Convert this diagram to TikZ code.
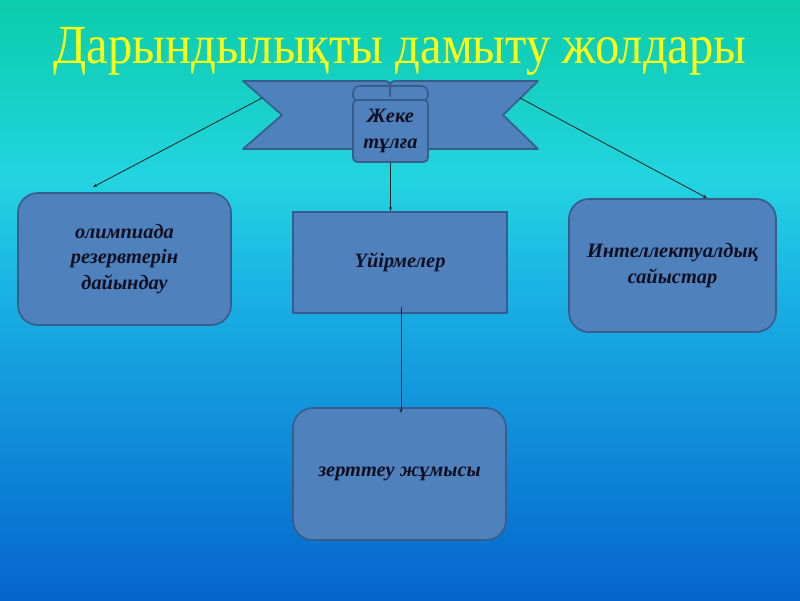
\documentclass[tikz,border=0pt]{standalone}
\usepackage{fontspec}
\setmainfont{Liberation Serif}
\usetikzlibrary{arrows.meta,positioning}
\definecolor{topcol}{RGB}{10,205,170}
\definecolor{cyancol}{RGB}{35,212,225}
\definecolor{midcol}{RGB}{25,175,228}
\definecolor{botcol}{RGB}{5,100,205}
\definecolor{boxfill}{RGB}{79,129,189}
\definecolor{boxline}{RGB}{56,93,138}
\definecolor{titlecol}{RGB}{250,255,20}
\definecolor{textcol}{RGB}{15,15,35}
\tikzset{
  rbox/.style={rectangle,rounded corners=0.5cm,draw=boxline,fill=boxfill,line width=1.2pt,align=center,font=\fontsize{14.5}{18}\selectfont\bfseries\itshape,text=textcol},
  sbox/.style={rbox,rounded corners=0pt},
  band/.style={draw=boxline,fill=boxfill,line width=1.2pt,line join=round},
  arr/.style={-{Stealth[length=3pt]},line width=0.6pt,black!85}
}

\begin{document}
\begin{tikzpicture}[x=0.025cm,y=-0.025cm]
  % background
  \fill[top color=topcol,bottom color=cyancol] (0,0) rectangle (800,181);
  \fill[top color=cyancol,bottom color=midcol] (0,180) rectangle (800,301);
  \fill[top color=midcol,bottom color=botcol] (0,300) rectangle (800,600);
  \node[font=\fontsize{37}{40}\selectfont,text=titlecol,anchor=base,inner sep=0pt] (title) at (400,63) {\scalebox{0.935}[1.06]{Дарындылықты дамыту жолдары}};
  % ribbon with scroll
  \draw[band] (243,81) -- (386,81) .. controls (389,82) .. (390,85) .. controls (391,82) .. (394,81)
    -- (538,81) -- (503,115) -- (538,149) -- (243,149) -- (282,115) -- cycle;
  \coordinate (rl) at (262,98);\coordinate (rr) at (520,98);
  \draw[band,rounded corners=5pt] (353,86) rectangle (428,102);
  \node[rbox,rounded corners=3pt,minimum width=1.875cm,minimum height=1.55cm,inner sep=1pt] (scroll) at (390.5,131) {Жеке\\тұлға};
  \draw[boxline,line width=0.8pt] (390,85) -- (390,97);
  % boxes
  \node[rbox,minimum width=5.325cm,minimum height=3.3cm] (olymp) at (124.5,259) {олимпиада\\резервтерін\\дайындау};
  \node[sbox,minimum width=5.35cm,minimum height=2.525cm] (club) at (400,262.5) {Үйірмелер};
  \node[rbox,minimum width=5.175cm,minimum height=3.325cm] (intel) at (672.5,265.5) {Интеллектуалдық\\сайыстар};
  \node[rbox,minimum width=5.325cm,minimum height=3.3cm] (research) at (399.5,474) {зерттеу жұмысы};
  % connectors
  \coordinate (olympend) at (93,187);\coordinate (intelend) at (707,198);
  \coordinate (clubfoot) at (401,307);\coordinate (restop) at (401,413);
  \draw[arr] (rl) -- (olympend);
  \draw[arr] (rr) -- (intelend);
  \draw[arr] (scroll.south) -- (scroll.south |- club.north);
  \draw[arr,line width=0.5pt] (clubfoot) -- (restop);
\end{tikzpicture}
\end{document}
